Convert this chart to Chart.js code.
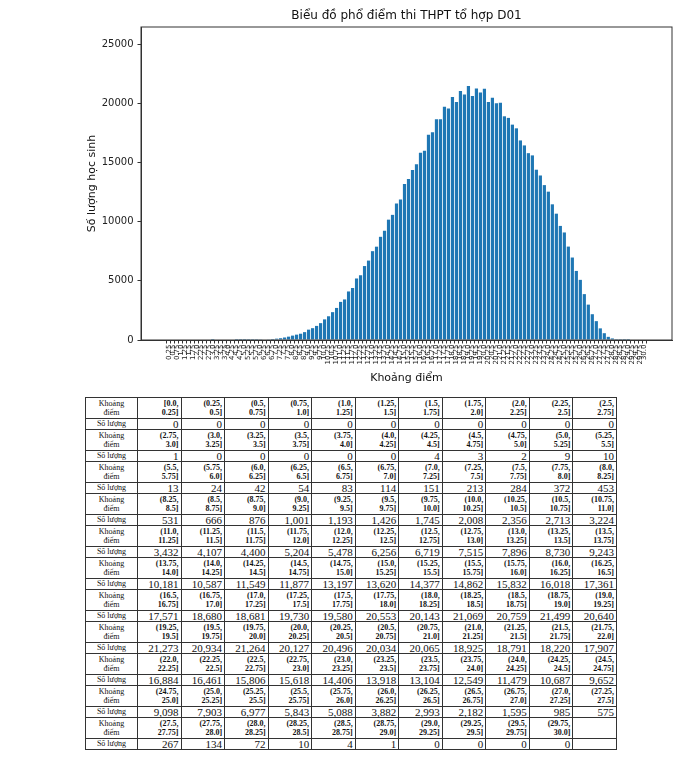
<!DOCTYPE html>
<html>
<head>
<meta charset="utf-8">
<script src="https://cdn.jsdelivr.net/npm/chart.js@4.4.0/dist/chart.umd.min.js"></script>
<style>
  body { margin: 0; background: #fff; width: 700px; height: 784px; position: relative; }
  #chartBox { position: absolute; left: 0; top: 0; width: 700px; height: 392px; }
  #scoreTable { position: absolute; left: 85px; top: 397px; width: 532px; border-collapse: collapse;
    table-layout: fixed; font-family: "Liberation Serif", "DejaVu Serif", serif; color: #111; }
  #scoreTable td { border: 1px solid #333; padding: 0 2px; text-align: right; overflow: hidden; white-space: nowrap; }
  #scoreTable tr.range td { height: 20px; font-size: 8px; font-weight: bold; line-height: 9px; }
  #scoreTable tr.count td { height: 9.5px; font-size: 11px; line-height: 10px; }
  #scoreTable tr.range td.head, #scoreTable tr.count td.head { text-align: center; font-size: 8px; font-weight: normal; }
</style>
</head>
<body>
<div id="chartBox"><canvas id="scoreChart" width="700" height="392"></canvas></div>
<table id="scoreTable">
  <colgroup><col style="width:52px"></colgroup>
</table>
<script>
// score bins of 0.25 from 0 to 30
const binStep = 0.25;
const binEdges = Array.from({ length: 121 }, (_, i) => i * binStep);

// number of students per bin
const counts = [
  0, 0, 0, 0, 0, 0, 0, 0, 0, 0, 0,
  1, 0, 0, 0, 0, 0, 4, 3, 2, 9, 10,
  13, 24, 42, 54, 83, 114, 151, 213, 284, 372, 453,
  531, 666, 876, 1001, 1193, 1426, 1745, 2008, 2356, 2713, 3224,
  3432, 4107, 4400, 5204, 5478, 6256, 6719, 7515, 7896, 8730, 9243,
  10181, 10587, 11549, 11877, 13197, 13620, 14377, 14862, 15832, 16018, 17361,
  17571, 18680, 18681, 19730, 19580, 20553, 20143, 21069, 20759, 21499, 20640,
  21273, 20934, 21264, 20127, 20496, 20034, 20065, 18925, 18791, 18220, 17907,
  16884, 16461, 15806, 15618, 14406, 13918, 13104, 12549, 11479, 10687, 9652,
  9098, 7903, 6977, 5843, 5088, 3882, 2993, 2182, 1595, 985, 575,
  267, 134, 72, 10, 4, 1, 0, 0, 0, 0
];

const yTicks = [0, 5000, 10000, 15000, 20000, 25000];
const chartTitle = 'Biểu đồ phổ điểm thi THPT tổ hợp D01';

// python-like float text: 1.0, 0.25 ...
const fmt = v => Number.isInteger(v) ? v.toFixed(1) : String(v);
const xLabels = binEdges.slice(1).map(fmt);

// axes box + title centred over the plot area (like matplotlib)
const framePlugin = {
  id: 'frame',
  afterDraw(chart) {
    const { ctx, chartArea: a } = chart;
    ctx.save();
    ctx.strokeStyle = '#333';
    ctx.lineWidth = 1;
    ctx.strokeRect(a.left, a.top, a.right - a.left, a.bottom - a.top);
    ctx.fillStyle = '#111';
    ctx.font = '12px "DejaVu Sans"';
    ctx.textAlign = 'center';
    ctx.textBaseline = 'middle';
    ctx.fillText(chartTitle, (a.left + a.right) / 2, a.top - 11);
    ctx.restore();
  }
};

new Chart(document.getElementById('scoreChart'), {
  type: 'bar',
  data: {
    datasets: [{
      data: counts.map((c, i) => ({ x: i, y: c })),
      backgroundColor: '#1f77b4',
      barPercentage: 0.8,
      categoryPercentage: 1
    }]
  },
  options: {
    responsive: false,
    animation: false,
    layout: { padding: { top: 27, right: 28, bottom: 0, left: 0 } },
    plugins: {
      legend: { display: false },
      tooltip: { enabled: false },
      title: { display: false }
    },
    scales: {
      x: {
        type: 'linear',
        min: -6.39,
        max: 125.39,
        afterBuildTicks: s => { s.ticks = xLabels.map((_, i) => ({ value: i })); },
        afterFit: s => { s.height = 52; },
        ticks: {
          autoSkip: false,
          minRotation: 90,
          maxRotation: 90,
          padding: 1,
          color: '#222',
          font: { family: 'DejaVu Sans', size: 7 },
          callback: v => xLabels[v]
        },
        grid: { drawOnChartArea: false, tickLength: 3.5, color: '#333' },
        border: { color: '#333' },
        title: {
          display: true,
          text: 'Khoảng điểm',
          color: '#111',
          font: { family: 'DejaVu Sans', size: 11 },
          padding: { top: 0, bottom: 7.4 }
        }
      },
      y: {
        min: 0,
        max: 26480,
        afterBuildTicks: s => { s.ticks = yTicks.map(v => ({ value: v })); },
        afterFit: s => { s.width = 141; },
        ticks: {
          padding: 4,
          color: '#222',
          font: { family: 'DejaVu Sans', size: 10 },
          callback: v => String(v)
        },
        grid: { drawOnChartArea: false, tickLength: 3.5, color: '#333' },
        border: { color: '#333' },
        title: {
          display: true,
          text: 'Số lượng học sinh',
          color: '#111',
          font: { family: 'DejaVu Sans', size: 11 },
          padding: { top: 86, bottom: 0 }
        }
      }
    }
  },
  plugins: [framePlugin]
});

// table below the chart, 11 bins per row pair
const perRow = 11;
const table = document.getElementById('scoreTable');
for (let r = 0; r < Math.ceil(counts.length / perRow); r++) {
  const rangeRow = table.insertRow();
  rangeRow.className = 'range';
  const countRow = table.insertRow();
  countRow.className = 'count';
  let h = rangeRow.insertCell();
  h.className = 'head';
  h.innerHTML = 'Khoảng<br>điểm';
  h = countRow.insertCell();
  h.className = 'head';
  h.textContent = 'Số lượng';
  for (let c = 0; c < perRow; c++) {
    const i = r * perRow + c;
    const rc = rangeRow.insertCell();
    const cc = countRow.insertCell();
    if (i < counts.length) {
      rc.innerHTML = (i === 0 ? '[' : '(') + fmt(binEdges[i]) + ',<br>' + fmt(binEdges[i + 1]) + ']';
      cc.textContent = counts[i].toLocaleString('en-US');
    }
  }
}
</script>
</body>
</html>
